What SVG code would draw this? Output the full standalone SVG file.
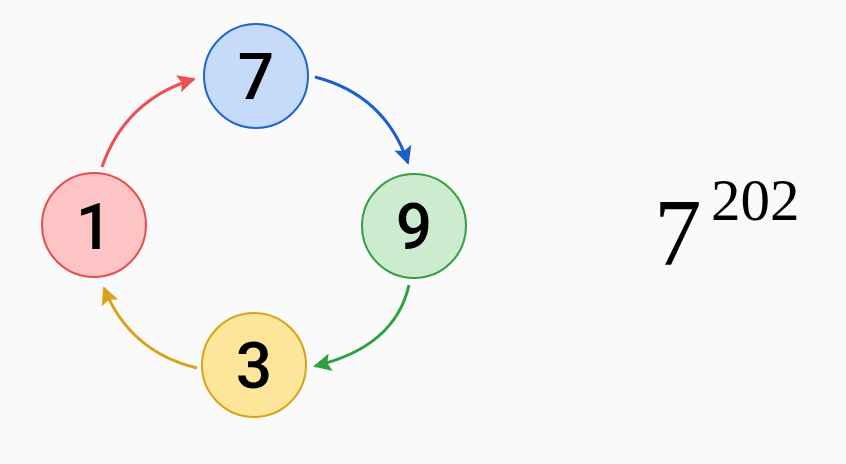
<svg xmlns="http://www.w3.org/2000/svg" width="846" height="464" viewBox="0 0 846 464">
<style>
.n{stroke-width:2}
.d{font-family:Roboto,"Liberation Sans",sans-serif;font-weight:500;font-size:64px;text-anchor:middle;fill:#000}
.c{fill:none;stroke-width:3}
.m{font-family:"Liberation Serif","DejaVu Serif",serif;fill:#000}
</style>
<defs>
<marker id="ar" viewBox="0 0 10 10" refX="9" refY="5" markerWidth="6" markerHeight="6" orient="auto" markerUnits="strokeWidth"><path d="M0,0 L10,5 L0,10 L2,5 z" fill="#ee5050"/></marker>
<marker id="ab" viewBox="0 0 10 10" refX="9" refY="5" markerWidth="6" markerHeight="6" orient="auto" markerUnits="strokeWidth"><path d="M0,0 L10,5 L0,10 L2,5 z" fill="#1a5fd0"/></marker>
<marker id="ag" viewBox="0 0 10 10" refX="9" refY="5" markerWidth="6" markerHeight="6" orient="auto" markerUnits="strokeWidth"><path d="M0,0 L10,5 L0,10 L2,5 z" fill="#2fa040"/></marker>
<marker id="ay" viewBox="0 0 10 10" refX="9" refY="5" markerWidth="6" markerHeight="6" orient="auto" markerUnits="strokeWidth"><path d="M0,0 L10,5 L0,10 L2,5 z" fill="#d9a21a"/></marker>
</defs>
<rect width="846" height="464" fill="#fafafa"/>
<g id="connectors">
<path class="c" d="M102,167 Q125,100 194,79" stroke="#ee5050" marker-end="url(#ar)"/>
<path class="c" d="M315,77 Q385,95 408,163" stroke="#1a5fd0" marker-end="url(#ab)"/>
<path class="c" d="M409,285 Q395,347 315,366" stroke="#2fa040" marker-end="url(#ag)"/>
<path class="c" d="M197,368 Q130,352 104,288" stroke="#d9a21a" marker-end="url(#ay)"/>
</g>
<g id="node7"><circle class="n" cx="256" cy="76" r="52" fill="#c6dbfa" stroke="#1a66d0"/><text class="d" x="256" y="99">7</text></g>
<g id="node9"><circle class="n" cx="414" cy="226" r="52" fill="#cdeccf" stroke="#34a040"/><text class="d" x="414" y="249">9</text></g>
<g id="node3"><circle class="n" cx="254" cy="365" r="52" fill="#fde69a" stroke="#d8a21a"/><text class="d" x="254" y="388">3</text></g>
<g id="node1"><circle class="n" cx="94" cy="225" r="52" fill="#fdc4c6" stroke="#e84c4c"/><text class="d" x="94" y="249">1</text></g>
<g id="expr"><text class="m" x="654" y="265" font-size="95">7</text><text class="m" x="711" y="220" font-size="59">202</text></g>
</svg>
